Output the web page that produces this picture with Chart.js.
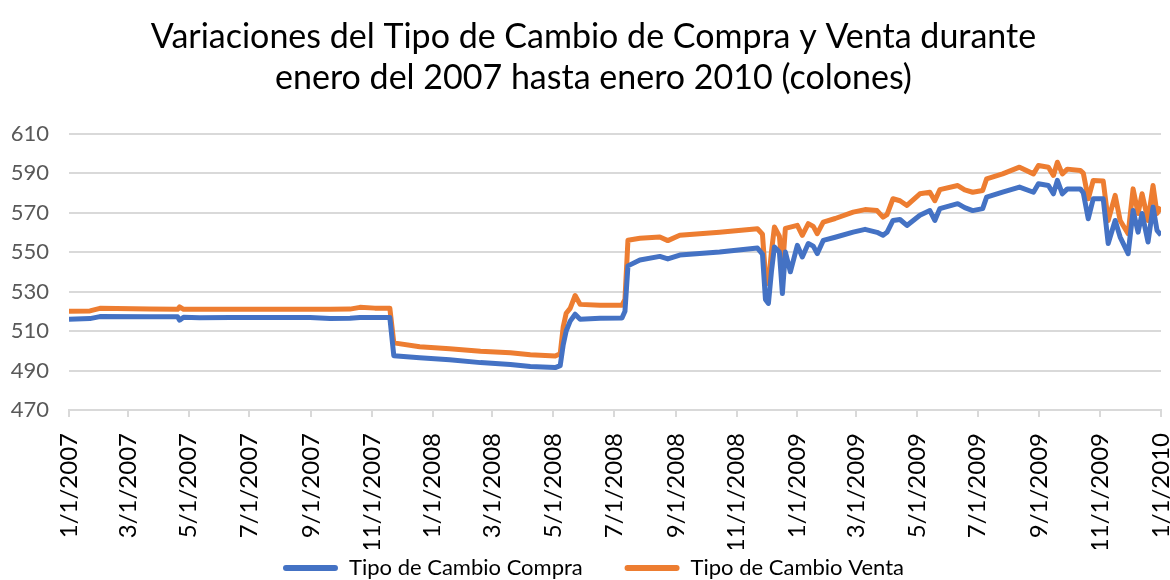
<!DOCTYPE html>
<html>
<head>
<meta charset="utf-8">
<title>Tipo de Cambio</title>
<script src="https://cdn.jsdelivr.net/npm/chart.js@4.4.0/dist/chart.umd.min.js"></script>
<style>
  html, body { margin: 0; padding: 0; background: #fff; }
</style>
</head>
<body>
<canvas id="grafico" width="1170" height="580"></canvas>
<script>
// fechas de los puntos (M/D/YYYY)
const fechas = [
  "1/1/2007", "1/22/2007", "2/1/2007", "3/23/2007", "4/20/2007", "4/22/2007", "4/26/2007",
  "5/12/2007", "6/12/2007", "8/31/2007", "9/20/2007", "10/10/2007", "10/20/2007", "11/4/2007",
  "11/19/2007", "11/23/2007", "12/19/2007", "1/18/2008", "2/18/2008", "3/19/2008", "4/8/2008",
  "5/3/2008", "5/8/2008", "5/11/2008", "5/14/2008", "5/18/2008", "5/23/2008", "5/28/2008",
  "6/17/2008", "7/9/2008", "7/12/2008", "7/15/2008", "7/27/2008", "8/16/2008", "8/24/2008",
  "9/5/2008", "10/15/2008", "11/22/2008", "11/27/2008", "11/30/2008", "12/3/2008", "12/6/2008",
  "12/9/2008", "12/14/2008", "12/17/2008", "12/20/2008", "12/25/2008", "1/1/2009", "1/6/2009",
  "1/12/2009", "1/17/2009", "1/21/2009", "1/27/2009", "2/8/2009", "2/26/2009", "3/10/2009",
  "3/22/2009", "3/28/2009", "4/1/2009", "4/7/2009", "4/14/2009", "4/21/2009", "5/4/2009",
  "5/14/2009", "5/19/2009", "5/24/2009", "6/11/2009", "6/18/2009", "6/26/2009", "7/6/2009",
  "7/10/2009", "7/26/2009", "8/12/2009", "8/26/2009", "8/31/2009", "9/10/2009", "9/15/2009",
  "9/19/2009", "9/24/2009", "9/29/2009", "10/12/2009", "10/15/2009", "10/20/2009", "10/25/2009",
  "11/4/2009", "11/9/2009", "11/16/2009", "11/21/2009", "11/29/2009", "12/4/2009", "12/9/2009",
  "12/13/2009", "12/19/2009", "12/24/2009", "12/28/2009", "1/1/2010"
];

const compra = [
  516, 516.3, 517.3, 517.2, 517.2, 515.5, 517,
  516.7, 516.8, 516.8, 516.4, 516.5, 516.8, 516.8,
  516.8, 497.5, 496.5, 495.5, 494, 493, 492,
  491.5, 492.5, 503, 510, 515, 518.5, 516,
  516.5, 516.6, 520, 543, 546, 547.8, 546.5,
  548.5, 550, 552, 549, 526, 524, 540,
  552.6, 550, 529, 550, 540, 553.4, 547.5,
  554.3, 553, 549.2, 555.9, 557.5, 560.1, 561.5,
  560, 558.5, 560, 566, 566.5, 563.5, 568.6,
  571, 566, 572, 574.5, 572.5, 571, 572,
  577.8, 580.3, 582.9, 580.3, 584.6, 583.7, 579.5,
  586.3, 579.5, 582, 582, 580, 566.9, 577,
  577, 554.3, 566, 557.6, 549.2, 571, 560.1,
  569.5, 555.1, 572.8, 561, 558.5
];

const venta = [
  520, 520.2, 521.5, 521.2, 521, 522.2, 521,
  521, 521, 521, 521, 521.1, 522, 521.6,
  521.6, 504, 502, 501, 499.8, 499, 498,
  497.3, 498.5, 512, 519, 521.5, 528, 523.5,
  523, 523, 526, 556, 557, 557.6, 555.8,
  558.5, 560, 561.8, 559, 538, 534, 550,
  562.7, 558, 541, 562, 562.6, 563.5, 558.5,
  564.4, 563, 559.3, 565.2, 567, 570.2, 571.5,
  571, 567.7, 569, 577, 576, 573.6, 579.5,
  580.3, 576, 581.6, 583.7, 581.5, 580.3, 581.2,
  587.1, 589.6, 593, 589.6, 593.8, 593, 588.8,
  595.5, 589.6, 592, 591.3, 590, 577, 586.3,
  586, 566, 578.7, 566, 559.3, 582, 569.5,
  579.5, 566, 583.7, 569.5, 572.8
];

const etiquetasX = [
  "1/1/2007", "3/1/2007", "5/1/2007", "7/1/2007", "9/1/2007", "11/1/2007",
  "1/1/2008", "3/1/2008", "5/1/2008", "7/1/2008", "9/1/2008", "11/1/2008",
  "1/1/2009", "3/1/2009", "5/1/2009", "7/1/2009", "9/1/2009", "11/1/2009", "1/1/2010"
];

const ticksY = [470, 490, 510, 530, 550, 570, 590, 610];

const series = ["Tipo de Cambio Compra", "Tipo de Cambio Venta"];
const colores = ["#4472C4", "#ED7D31"];

// dias desde 1/1/2007
function dias(txt) {
  const [m, d, y] = txt.split("/").map(Number);
  return (Date.UTC(y, m - 1, d) - Date.UTC(2007, 0, 1)) / 86400000;
}

const porDia = {};
etiquetasX.forEach(t => { porDia[dias(t)] = t; });

const fuente = "Lato, 'Open Sans', sans-serif";
const separacion = "      "; // espacio extra entre las dos entradas de la leyenda

// titulo y leyenda un poco a la derecha, como en el original
const desplazar = {
  id: "desplazar",
  afterLayout(chart) {
    [chart.titleBlock, chart.legend].forEach(caja => {
      if (!caja) return;
      caja.left += 13;
      caja.right += 13;
    });
  }
};

new Chart(document.getElementById("grafico"), {
  type: "line",
  data: {
    datasets: [compra, venta].map((vals, i) => ({
      label: series[i],
      data: vals.map((v, j) => ({ x: dias(fechas[j]), y: v })),
      borderColor: colores[i],
      backgroundColor: colores[i],
      borderWidth: 5,
      pointRadius: 0,
      tension: 0,
      borderJoinStyle: "round"
    }))
  },
  plugins: [desplazar],
  options: {
    responsive: false,
    animation: false,
    layout: { padding: { left: 0, right: 9, top: 0, bottom: -9 } },
    plugins: {
      title: {
        display: true,
        text: ["Variaciones del Tipo de Cambio de Compra y Venta durante", "enero del 2007 hasta enero 2010 (colones)"],
        color: "#000",
        font: { family: fuente, size: 34, weight: "normal", lineHeight: 1.2 },
        padding: { top: 17, bottom: 35 }
      },
      legend: {
        position: "bottom",
        labels: {
          color: "#000",
          boxWidth: 55,
          boxHeight: 6,
          padding: 8,
          font: { family: fuente, size: 22 },
          generateLabels: chart =>
            Chart.defaults.plugins.legend.labels.generateLabels(chart).map((item, i) => ({
              ...item,
              text: i === 0 ? item.text + separacion : item.text,
              lineWidth: 0,
              borderRadius: 3
            }))
        }
      },
      tooltip: { enabled: false }
    },
    scales: {
      x: {
        type: "linear",
        min: 0,
        max: dias("1/1/2010"),
        afterBuildTicks: scale => {
          scale.ticks = etiquetasX.map(t => ({ value: dias(t) }));
        },
        afterFit: scale => {
          scale.height = 139;
          scale.paddingLeft = 0;
          scale.paddingRight = 0;
        },
        ticks: {
          autoSkip: false,
          minRotation: 90,
          maxRotation: 90,
          padding: 16,
          color: "#000",
          font: { family: fuente, size: 24 },
          callback: v => porDia[v]
        },
        grid: { drawOnChartArea: false, drawTicks: true, tickLength: 7, color: "#d9d9d9", lineWidth: 2 },
        border: { color: "#d9d9d9", width: 2 }
      },
      y: {
        min: 470,
        max: 610,
        afterBuildTicks: scale => {
          scale.ticks = ticksY.map(v => ({ value: v }));
        },
        afterFit: scale => {
          scale.width = 69;
          scale.paddingTop = 0;
          scale.paddingBottom = 0;
        },
        ticks: {
          padding: 20,
          color: "#595959",
          font: { family: fuente, size: 22 }
        },
        grid: { color: "#d9d9d9", lineWidth: 2, drawTicks: false },
        border: { display: false }
      }
    }
  }
});
</script>
</body>
</html>
